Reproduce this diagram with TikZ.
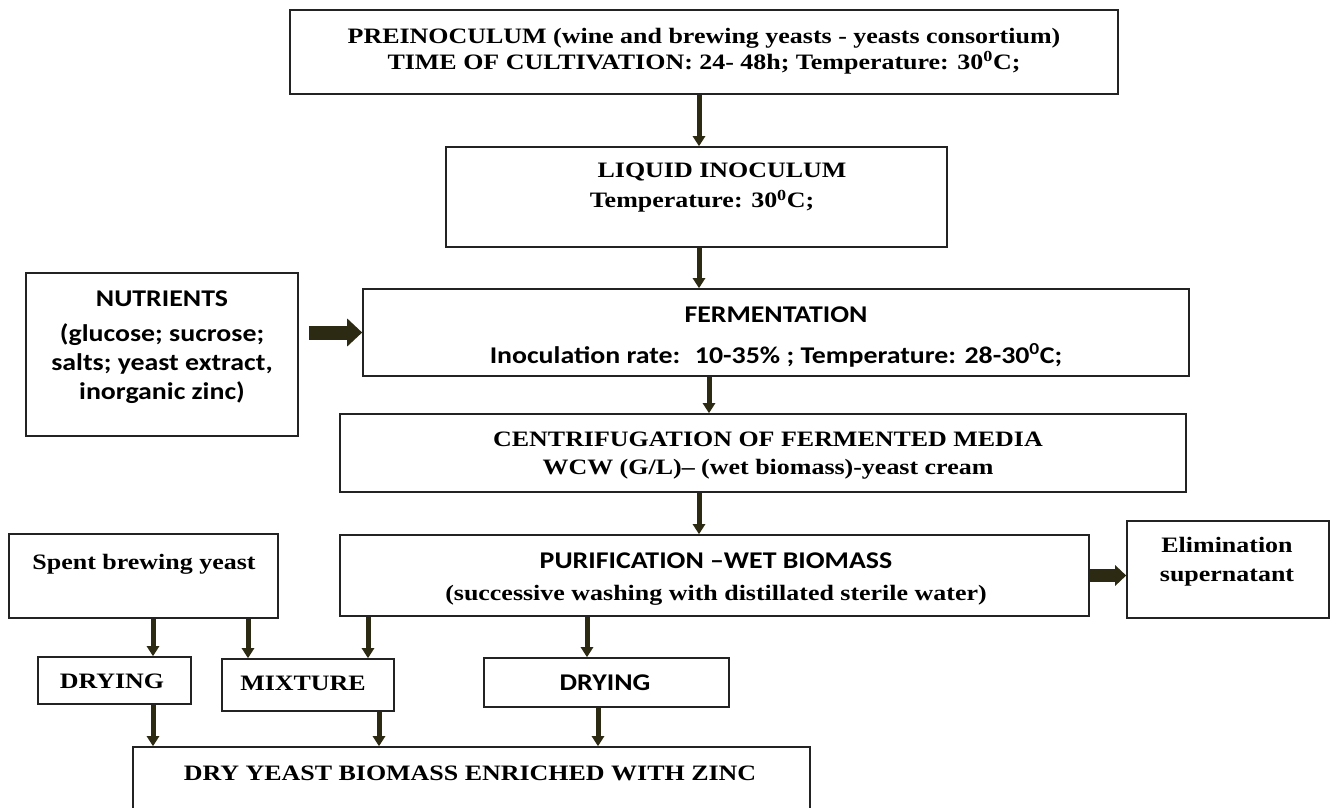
\documentclass[tikz,border=0pt]{standalone}
\usepackage{fontspec}
\setmainfont{Liberation Serif}[FakeStretch=1.18]
\newfontfamily\calibri{Carlito}[FakeStretch=1.16]
\usetikzlibrary{arrows.meta}
\definecolor{boxline}{RGB}{35,35,35}
\definecolor{arrowolive}{RGB}{44,42,18}

\begin{document}
\begin{tikzpicture}[x=1pt,y=-1pt,
    box/.style={draw=boxline,line width=1.6pt},
    tnr/.style={font=\fontsize{22pt}{26pt}\selectfont\bfseries,align=center,inner sep=0pt},
    cal/.style={font=\calibri\fontsize{24pt}{29pt}\selectfont\bfseries,align=center,inner sep=0pt},
    down/.style={draw=arrowolive,line width=5pt,-{Triangle[width=12pt,length=10pt]}},
    fat/.style={draw=arrowolive,line width=14pt,-{Triangle[width=27pt,length=15pt]}}]

  \useasboundingbox (0,0) rectangle (1332,807);
  \clip (0,0) rectangle (1332,807);

  \node[box,minimum width=828pt,minimum height=84pt] (pre) at (704,52) {};
  \node[tnr] (pretxt) at (704,51) {PREINOCULUM (wine and brewing yeasts - yeasts consortium)\\TIME OF CULTIVATION: 24- 48h; Temperature: 30\textsuperscript{0}C;};

  \node[box,minimum width=501pt,minimum height=100pt] (liq) at (696.5,197) {};
  \node[tnr] (liqtxt) at (702,188) {\hspace*{40pt}LIQUID INOCULUM\\[4pt]Temperature: 30\textsuperscript{0}C;};

  \node[box,minimum width=272pt,minimum height=163pt] (nutr) at (162,354.5) {};
  \node[cal] (nutrtxt) at (162,347) {NUTRIENTS\\[6pt](glucose; sucrose;\\salts; yeast extract,\\inorganic zinc)};

  \node[box,minimum width=826pt,minimum height=87pt] (ferm) at (776,332.5) {};
  \node[cal] (fermtxt) at (776,337) {FERMENTATION\\[12pt]Inoculation rate:~ 10-35\% ; Temperature: 28-30\textsuperscript{0}C;};

  \node[box,minimum width=846pt,minimum height=78pt] (cent) at (763,453) {};
  \node[tnr] (centtxt) at (768,456) {CENTRIFUGATION OF FERMENTED MEDIA\\[2pt]WCW (G/L)– (wet biomass)-yeast cream};

  \node[box,minimum width=749pt,minimum height=81pt] (purif) at (714.5,575.5) {};
  \node[tnr] (puriftxt) at (716,579) {{\calibri\fontsize{24pt}{29pt}\selectfont PURIFICATION –WET BIOMASS}\\[6pt](successive washing with distillated sterile water)};

  \node[box,minimum width=202pt,minimum height=97pt] (elim) at (1228,569.5) {};
  \node[tnr] (elimtxt) at (1227,562) {Elimination\\[3pt]supernatant};

  \node[box,minimum width=269pt,minimum height=84pt] (spent) at (143.5,576) {};
  \node[tnr] (spenttxt) at (144,564) {Spent brewing yeast};

  \node[box,minimum width=153pt,minimum height=47pt] (dry1) at (114.5,680.5) {};
  \node[tnr] (dry1txt) at (112,681) {DRYING};

  \node[box,minimum width=172pt,minimum height=52pt] (mix) at (308,685) {};
  \node[tnr] (mixtxt) at (303,683) {MIXTURE};

  \node[box,minimum width=245pt,minimum height=49pt] (dry2) at (606.5,682.5) {};
  \node[cal] (dry2txt) at (605,683) {DRYING};

  \node[box,minimum width=677pt,minimum height=66pt] (dry) at (471.5,780) {};
  \node[tnr] (drytxt) at (470,773) {DRY YEAST BIOMASS ENRICHED WITH ZINC};

  \draw[down] (pre.south -| 699,0) -- (liq.north -| 699,0);
  \draw[down] (liq.south -| 699,0) -- (ferm.north -| 699,0);
  \draw[down] (ferm.south -| 709,0) -- (cent.north -| 709,0);
  \draw[down] (cent.south -| 699,0) -- (purif.north -| 699,0);
  \draw[fat,shorten <=10pt] (nutr.east |- ferm.west) -- (ferm.west);
  \draw[fat,line width=13pt,-{Triangle[width=20pt,length=11pt]}] (purif.east) -- (elim.west |- purif.east);
  \draw[down] (spent.south -| 153,0) -- (dry1.north -| 153,0);
  \draw[down] (spent.south -| 248,0) -- (mix.north -| 248,0);
  \draw[down] (purif.south -| 368,0) -- (mix.north -| 368,0);
  \draw[down] (purif.south -| 587,0) -- (dry2.north -| 587,0);
  \draw[down] (dry1.south -| 153,0) -- (dry.north -| 153,0);
  \draw[down] (mix.south -| 379,0) -- (dry.north -| 379,0);
  \draw[down] (dry2.south -| 598,0) -- (dry.north -| 598,0);

\end{tikzpicture}
\end{document}
